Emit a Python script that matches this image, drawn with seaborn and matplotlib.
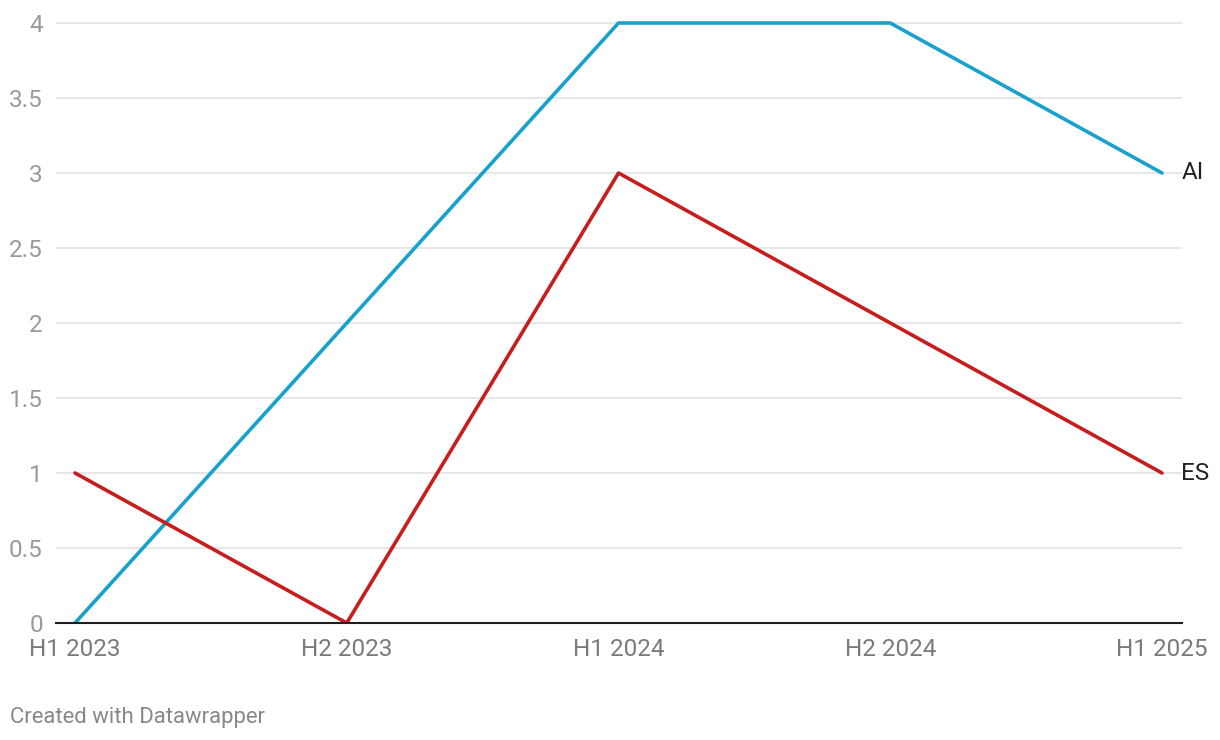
import pandas as pd
import seaborn as sns
import matplotlib.pyplot as plt

# data
periods = ['H1 2023', 'H2 2023', 'H1 2024', 'H2 2024', 'H1 2025']
ai_values = [0, 2, 4, 4, 3]
es_values = [1, 0, 3, 2, 1]
series_names = ['AI', 'ES']
colors = {'AI': '#18a1cd', 'ES': '#c71e1d'}

df = pd.DataFrame({
    'period': periods * 2,
    'x': list(range(len(periods))) * 2,
    'value': ai_values + es_values,
    'series': ['AI'] * len(periods) + ['ES'] * len(periods),
})

sns.set_style('white')
plt.rcParams['font.family'] = ['Roboto', 'DejaVu Sans']

fig = plt.figure(figsize=(12.2, 7.4), dpi=100)
ax = fig.add_axes([56 / 1220, 117 / 740, 1126 / 1220, 603 / 740])

sns.lineplot(data=df, x='x', y='value', hue='series', palette=colors,
             linewidth=2.6, legend=False, ax=ax, zorder=3)

ax.set_xlim(-0.07, 4.0736)
ax.set_ylim(0, 4.02)
ax.set_yticks([0, 0.5, 1, 1.5, 2, 2.5, 3, 3.5, 4])
ax.set_yticklabels(['0', '0.5', '1', '1.5', '2', '2.5', '3', '3.5', '4'])
ax.set_xticks(range(len(periods)))
ax.set_xticklabels(periods)

ax.grid(axis='y', color='#e3e3e3', linewidth=1.2)
ax.grid(axis='x', visible=False)
for s in ['top', 'right', 'left']:
    ax.spines[s].set_visible(False)
ax.spines['bottom'].set_color('#1d1d1d')
ax.spines['bottom'].set_linewidth(1.5)
ax.spines['bottom'].set_zorder(4)

ax.tick_params(axis='y', length=0, pad=9.5, labelsize=17.5, labelcolor='#9a9a9a')
ax.tick_params(axis='x', length=0, pad=11, labelsize=17.5, labelcolor='#7a7a7a')
ax.set_xlabel('')
ax.set_ylabel('')

# end labels
last = len(periods) - 1
for name, vals in zip(series_names, [ai_values, es_values]):
    ax.annotate(name, xy=(last, vals[-1]), xytext=(14, 0),
                textcoords='offset points', ha='left', va='center',
                fontsize=17.5, color='#222222', annotation_clip=False)

fig.text(10 / 1220, 1 - 717 / 740, 'Created with Datawrapper', fontsize=15.9,
         color='#888888', ha='left', va='center')

fig.savefig('out.png', dpi=100, facecolor='white')
